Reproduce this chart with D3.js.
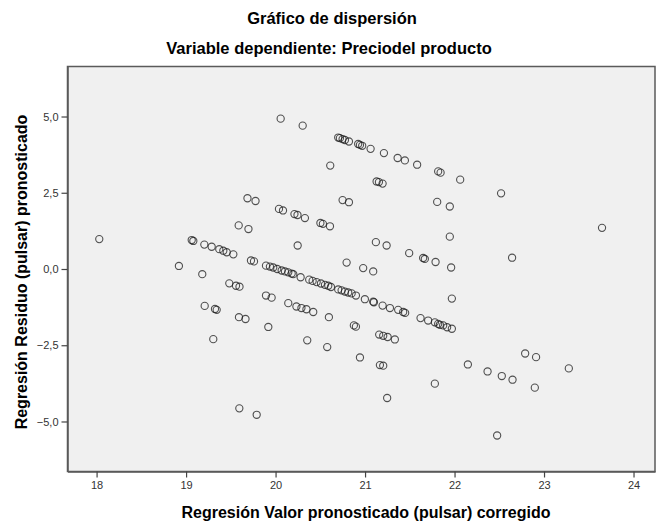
<!DOCTYPE html>
<html>
<head>
<meta charset="utf-8">
<script src="https://cdn.jsdelivr.net/npm/d3@7"></script>
<style>
  html, body { margin: 0; padding: 0; background: #fff; }
  svg { display: block; font-family: Arial, "Liberation Sans", sans-serif; }
</style>
</head>
<body>
<svg id="chart" width="657" height="525"></svg>
<script>
// Predicted values (x) and residuals (y) of the regression
const predicted = [
  18.03, 18.92, 19.063, 19.081, 19.204, 19.286, 19.371, 19.416, 19.454, 19.528,
  19.725, 19.759, 19.893, 19.937, 19.974, 20.019, 20.068, 20.105, 20.142, 20.180,
  20.198, 20.280, 20.376, 20.414, 20.459, 20.507, 20.552, 20.589, 20.619, 20.700,
  20.738, 20.775, 20.812, 20.850, 20.898, 20.998, 21.091, 21.099, 21.196, 21.278,
  21.370, 21.426, 21.448, 21.620, 21.705, 21.780, 21.817, 21.836, 21.873, 21.917,
  21.970,
  19.181, 19.483, 19.558, 19.597, 19.893, 19.956, 20.142, 20.233, 20.289, 20.345,
  20.421, 20.596, 20.875, 20.898, 21.158, 21.203, 21.252, 21.333,
  19.208, 19.323, 19.342, 19.591, 19.664, 19.919, 20.354, 20.577, 20.943, 21.166,
  21.203, 21.780,
  19.304, 19.595, 19.789, 21.247, 22.476, 22.149, 22.369, 22.528, 22.648, 22.789,
  22.911, 23.277, 22.897,
  20.057, 20.303, 20.700, 20.719, 20.749, 20.775, 20.820, 20.923, 20.943, 20.968,
  21.062, 21.211, 21.364, 21.445, 21.582, 21.817, 21.844, 22.063, 22.520,
  20.611, 21.129, 21.155, 21.196, 20.749, 20.820, 21.806, 21.947, 21.947, 22.643,
  23.648, 21.962, 21.970,
  19.686, 19.776, 20.038, 20.083, 20.211, 20.245, 20.328, 20.501, 20.529, 20.608,
  21.121, 21.241, 21.493, 21.649, 21.668, 21.788,
  19.588, 19.697, 20.247, 20.794, 20.979, 21.091
];
const residual = [
  0.98, 0.10, 0.95, 0.92, 0.80, 0.73, 0.65, 0.60, 0.55, 0.48,
  0.28, 0.25, 0.11, 0.08, 0.05, 0.00, -0.05, -0.08, -0.11, -0.15,
  -0.17, -0.27, -0.35, -0.39, -0.43, -0.475, -0.52, -0.55, -0.59, -0.67,
  -0.70, -0.74, -0.77, -0.80, -0.87, -0.99, -1.07, -1.09, -1.20, -1.28,
  -1.34, -1.41, -1.44, -1.61, -1.69, -1.75, -1.80, -1.83, -1.85, -1.91,
  -1.96,
  -0.17, -0.47, -0.55, -0.58, -0.87, -0.94, -1.12, -1.23, -1.28, -1.32,
  -1.41, -1.58, -1.85, -1.89, -2.15, -2.19, -2.23, -2.31,
  -1.21, -1.31, -1.34, -1.58, -1.64, -1.90, -2.34, -2.56, -2.90, -3.15,
  -3.17, -3.76,
  -2.30, -4.57, -4.78, -4.23, -5.46, -3.13, -3.36, -3.51, -3.63, -2.77,
  -2.89, -3.26, -3.89,
  4.93, 4.70, 4.31, 4.29, 4.26, 4.23, 4.18, 4.10, 4.07, 4.04,
  3.94, 3.80, 3.64, 3.56, 3.42, 3.20, 3.16, 2.93, 2.48,
  3.39, 2.87, 2.85, 2.80, 2.26, 2.19, 2.20, 2.05, 1.06, 0.37,
  1.35, 0.05, -0.97,
  2.32, 2.23, 1.97, 1.92, 1.80, 1.77, 1.67, 1.51, 1.48, 1.40,
  0.88, 0.77, 0.52, 0.36, 0.33, 0.23,
  1.43, 1.31, 0.77, 0.21, 0.03, -0.08
];

const xTicks = [18, 19, 20, 21, 22, 23, 24];
const yTicks = [-5, -2.5, 0, 2.5, 5];

const chartTitle = "Gráfico de dispersión";
const chartSubtitle = "Variable dependiente: Preciodel producto";
const xLabel = "Regresión Valor pronosticado (pulsar) corregido";
const yLabel = "Regresión Residuo (pulsar) pronosticado";

const points = predicted.map((v, i) => ({ x: v, y: residual[i] }));

const svg = d3.select("#chart");
const plot = { left: 67.5, top: 66.5, right: 655, bottom: 471.5 };

const x = d3.scaleLinear().domain([17.675, 24.24]).range([plot.left, plot.right]);
const y = d3.scaleLinear().domain([-6.64, 6.64]).range([plot.bottom, plot.top]);

const comma = v => d3.format(".1f")(v).replace(".", ",");

// Plot background
svg.append("rect")
  .attr("x", plot.left).attr("y", plot.top)
  .attr("width", plot.right - plot.left).attr("height", plot.bottom - plot.top)
  .attr("fill", "#f0f0f0")
  .attr("stroke", "#5a5a5a").attr("stroke-width", 1.5);

// Axes
const xAxis = svg.append("g")
  .attr("transform", `translate(0,${plot.bottom})`)
  .call(d3.axisBottom(x).tickValues(xTicks).tickFormat(d3.format("d")).tickSizeInner(6).tickSizeOuter(0).tickPadding(4));
const yAxis = svg.append("g")
  .attr("transform", `translate(${plot.left},0)`)
  .call(d3.axisLeft(y).tickValues(yTicks).tickFormat(comma).tickSizeInner(6).tickSizeOuter(0).tickPadding(3));

[xAxis, yAxis].forEach(g => {
  g.select(".domain").attr("stroke", "#5a5a5a").attr("stroke-width", 1.5);
  g.selectAll(".tick line").attr("stroke", "#444").attr("stroke-width", 1.2);
  g.selectAll(".tick text").attr("fill", "#333").style("font-size", "11px")
    .style("font-family", "Arial, 'Liberation Sans', sans-serif");
});

// Points
svg.append("g")
  .selectAll("circle")
  .data(points)
  .join("circle")
  .attr("cx", d => x(d.x))
  .attr("cy", d => y(d.y))
  .attr("r", 3.6)
  .attr("fill", "none")
  .attr("stroke", "#1a1a1a")
  .attr("stroke-opacity", 0.75)
  .attr("stroke-width", 1.1);

// Titles
svg.append("text")
  .attr("x", 332).attr("y", 24)
  .attr("text-anchor", "middle")
  .style("font-size", "16.5px").style("font-weight", "bold")
  .text(chartTitle);
svg.append("text")
  .attr("x", 329).attr("y", 54)
  .attr("text-anchor", "middle")
  .style("font-size", "16.5px").style("font-weight", "bold")
  .text(chartSubtitle);

// Axis labels
svg.append("text")
  .attr("x", 366).attr("y", 518)
  .attr("text-anchor", "middle")
  .style("font-size", "16px").style("font-weight", "bold")
  .text(xLabel);
svg.append("text")
  .attr("transform", `translate(27,272) rotate(-90)`)
  .attr("text-anchor", "middle")
  .style("font-size", "16px").style("font-weight", "bold")
  .text(yLabel);
</script>
</body>
</html>
